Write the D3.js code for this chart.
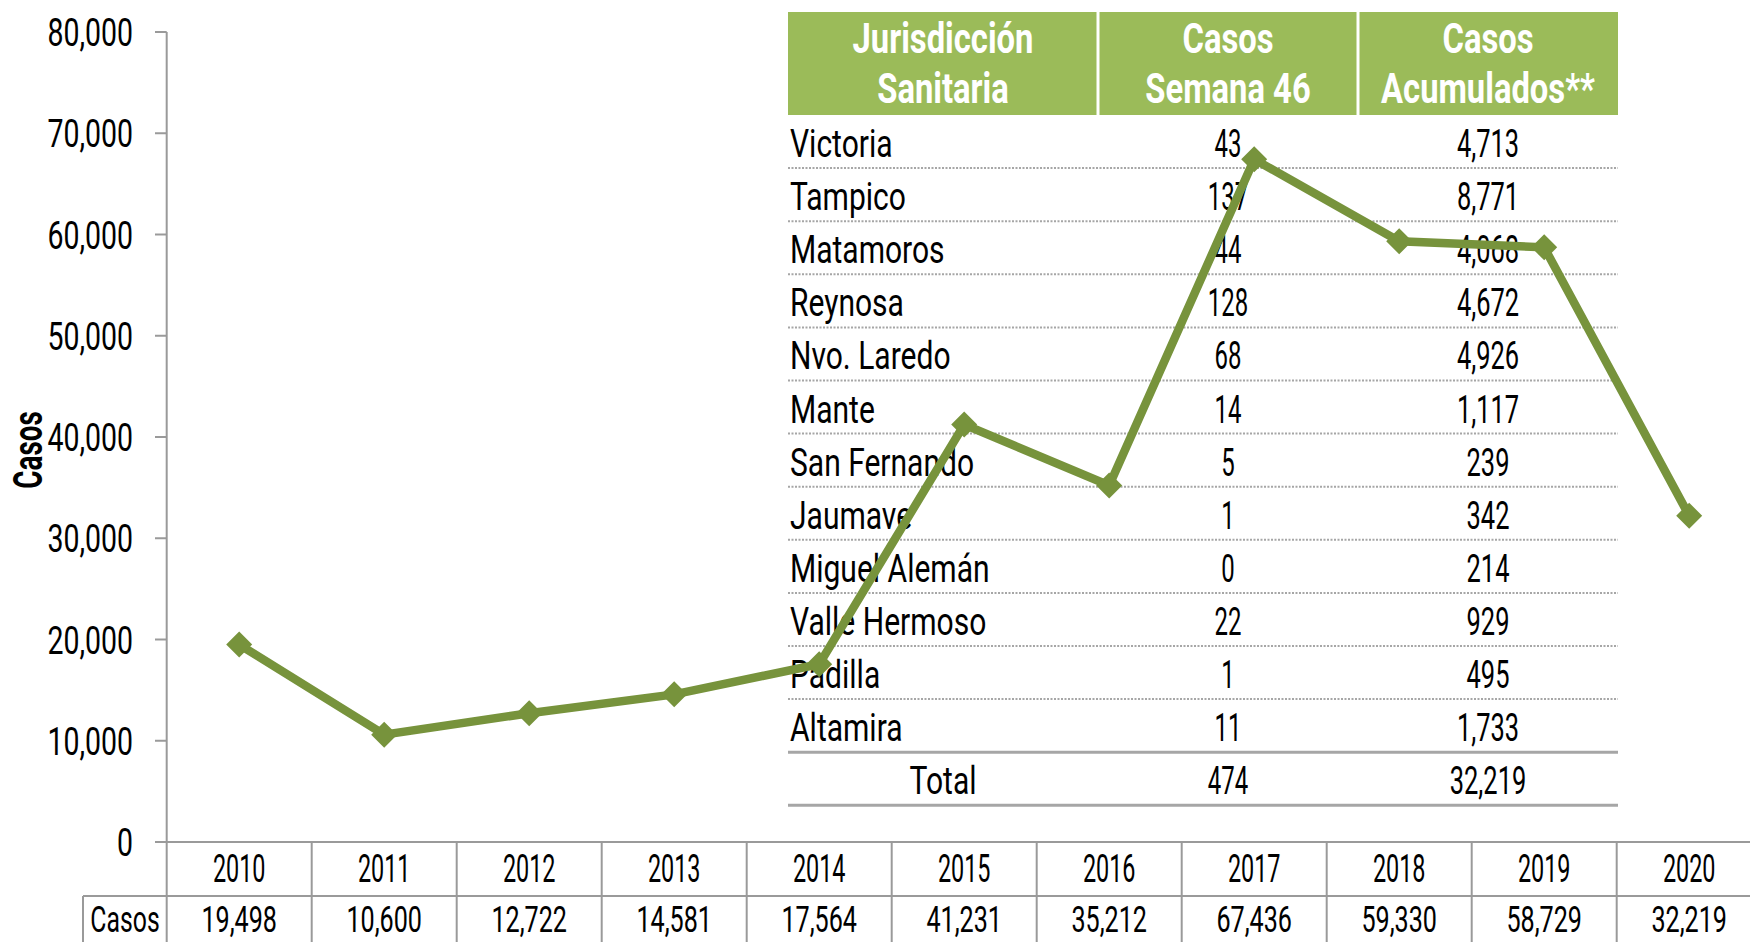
<!DOCTYPE html>
<html>
<head>
<meta charset="utf-8">
<script src="https://cdn.jsdelivr.net/npm/d3@7"></script>
<style>
body { margin:0; background:#fff; }
svg text { font-family: Roboto, "DejaVu Sans", sans-serif; fill:#000; }
.hdr { fill:#fff; font-weight:bold; }
</style>
</head>
<body>
<svg width="1750" height="942"></svg>
<script>
// datos
var years = ["2010","2011","2012","2013","2014","2015","2016","2017","2018","2019","2020"];
var casos = [19498, 10600, 12722, 14581, 17564, 41231, 35212, 67436, 59330, 58729, 32219];
var yTicks = [0, 10000, 20000, 30000, 40000, 50000, 60000, 70000, 80000];

var jurisdicciones = ["Victoria","Tampico","Matamoros","Reynosa","Nvo. Laredo","Mante","San Fernando","Jaumave","Miguel Alemán","Valle Hermoso","Padilla","Altamira"];
var casosSemana = [43, 137, 44, 128, 68, 14, 5, 1, 0, 22, 1, 11];
var casosAcum = [4713, 8771, 4068, 4672, 4926, 1117, 239, 342, 214, 929, 495, 1733];
var totalSemana = 474, totalAcum = 32219;
var headers = [["Jurisdicción","Sanitaria"], ["Casos","Semana 46"], ["Casos","Acumulados**"]];

var green = "#77933C", hdrGreen = "#9BBB59", grid = "#9a9a9a";
var fmt = d3.format(",");

svg = d3.select("svg");
W = +svg.attr("width");
H = +svg.attr("height");

var x0 = 166.7, colW = 145;
x = d3.scaleBand()
		.domain(years)
		.range([x0, x0 + years.length * colW])
;
y = d3.scaleLinear()
		.domain([0, 80000])
		.range([842, 32])
;

drawTable(svg.append("g").attr("class", "tabla"));
drawAxis(svg.append("g").attr("class", "eje"));
drawLine(svg.append("g").attr("class", "linea"));

// texto angosto (imitando Agency FB): escala horizontal
function txt(g, px, py, s, size, sx, anchor, cls) {
	return g.append("text")
		.attr("class", cls || null)
		.attr("transform", "translate(" + [px, py] + ") scale(" + sx + ",1)")
		.attr("text-anchor", anchor || "start")
		.style("font-size", size + "px")
		.text(s);
}

function drawAxis(g) {
	// eje vertical
	g.append("line")
		.attr("x1", x0).attr("x2", x0)
		.attr("y1", y(80000)).attr("y2", H)
		.attr("stroke", grid).attr("stroke-width", 2);
	// linea del cero
	g.append("line")
		.attr("x1", 155).attr("x2", W)
		.attr("y1", y(0)).attr("y2", y(0))
		.attr("stroke", grid).attr("stroke-width", 2);

	yTicks.forEach(function(t) {
		g.append("line")
			.attr("x1", 155).attr("x2", x0)
			.attr("y1", y(t)).attr("y2", y(t))
			.attr("stroke", grid).attr("stroke-width", 2);
		txt(g, 133, y(t) + 14, fmt(t), 39, 0.73, "end");
	});

	g.append("text")
		.attr("transform", "translate(42,450) rotate(-90) scale(0.68,1)")
		.attr("text-anchor", "middle")
		.style("font-size", "41px")
		.style("font-weight", "bold")
		.text("Casos");

	// tabla de datos inferior
	g.append("line")
		.attr("x1", 83).attr("x2", W)
		.attr("y1", 896).attr("y2", 896)
		.attr("stroke", grid).attr("stroke-width", 2);
	g.append("line")
		.attr("x1", 83).attr("x2", 83)
		.attr("y1", 896).attr("y2", H)
		.attr("stroke", grid).attr("stroke-width", 2);

	years.forEach(function(yr, i) {
		var xe = x(yr) + x.bandwidth();
		var cx = x(yr) + x.bandwidth() / 2;
		g.append("line")
			.attr("x1", xe).attr("x2", xe)
			.attr("y1", y(0)).attr("y2", H)
			.attr("stroke", grid).attr("stroke-width", 2);
		txt(g, cx, 882, yr, 39, 0.6, "middle");
		txt(g, cx, 932, fmt(casos[i]), 37, 0.68, "middle");
	});
	txt(g, 125, 932, "Casos", 37, 0.67, "middle");
}

function drawLine(g) {
	var line = d3.line()
				.x(function(d, i) { return x(years[i]) + x.bandwidth() / 2; })
				.y(function(d) { return y(d); })
	;
	g.append("path")
		.attr("d", line(casos))
		.attr("fill", "none")
		.attr("stroke", green)
		.attr("stroke-width", 8.5);
	g.selectAll(".dot")
		.data(casos)
		.enter().append("path")
			.attr("class", "dot")
			.attr("d", "M0,-13L13,0L0,13L-13,0Z")
			.attr("fill", green)
			.attr("transform", function(d, i) { return "translate(" + [x(years[i]) + x.bandwidth() / 2, y(d)] + ")"; });
}

function drawTable(g) {
	var tx = [788, 1098, 1358, 1618];
	var top = 12, hdrH = 103, rowH = 53.1;
	var bodyTop = top + hdrH;

	headers.forEach(function(h, c) {
		g.append("rect")
			.attr("x", tx[c] + (c > 0 ? 1.5 : 0))
			.attr("y", top)
			.attr("width", tx[c + 1] - tx[c] - (c > 0 ? 1.5 : 0) - (c < 2 ? 1.5 : 0))
			.attr("height", hdrH)
			.attr("fill", hdrGreen);
		var cx = (tx[c] + tx[c + 1]) / 2;
		txt(g, cx, 53, h[0], 42, 0.78, "middle", "hdr");
		txt(g, cx, 103, h[1], 42, 0.78, "middle", "hdr");
	});

	var rows = jurisdicciones.map(function(j, i) { return [j, casosSemana[i], casosAcum[i]]; });
	rows.push(["Total", totalSemana, totalAcum]);

	rows.forEach(function(r, i) {
		var by = bodyTop + i * rowH + 42;
		var isTotal = i == rows.length - 1;
		txt(g, isTotal ? (tx[0] + tx[1]) / 2 : 790, by, r[0], 38, 0.79, isTotal ? "middle" : "start");
		txt(g, (tx[1] + tx[2]) / 2, by, fmt(r[1]), 38, 0.63, "middle");
		txt(g, (tx[2] + tx[3]) / 2, by, fmt(r[2]), 38, 0.67, "middle");

		var ly = bodyTop + (i + 1) * rowH;
		var solid = i >= rows.length - 2;
		g.append("line")
			.attr("x1", tx[0]).attr("x2", tx[3])
			.attr("y1", ly).attr("y2", ly)
			.attr("stroke", "#a6a6a6")
			.attr("stroke-width", solid ? 3 : 2)
			.attr("stroke-dasharray", solid ? null : "2,1.5");
	});
}
</script>
</body>
</html>
